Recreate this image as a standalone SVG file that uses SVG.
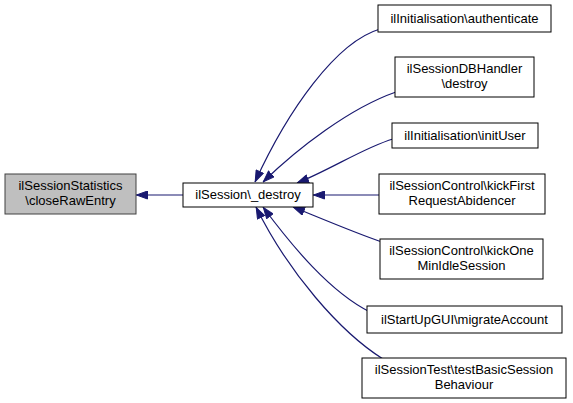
<svg xmlns="http://www.w3.org/2000/svg" width="573" height="403" viewBox="0 0 573 403">
<style>
.n rect{fill:#fff;stroke:#000;stroke-width:1}
.n.g rect{fill:#bfbfbf;stroke:#404040}
text{font-family:"Liberation Sans",Arial,sans-serif;font-size:13px;fill:#000;text-anchor:middle}
.e path{fill:none;stroke:#191970;stroke-width:1.2;marker-end:url(#a)}
</style>
<defs>
<marker id="a" viewBox="0 0 12 9" refX="12" refY="4.5" markerWidth="12" markerHeight="9" markerUnits="userSpaceOnUse" orient="auto">
<path d="M0.5,0.5 L11.5,4.5 L0.5,8.5 Z" fill="#191970" stroke="#191970" stroke-width="1"/>
</marker>
</defs>
<rect width="573" height="403" fill="#fff"/>
<g id="edges" class="e">
<path d="M183,195 L136,195"/>
<path d="M380,29 C336,42 288,110 255,182"/>
<path d="M396,92 C350,108 298,148 263,182"/>
<path d="M393,139 C365,147 330,170 297,183"/>
<path d="M379,195 L313,195"/>
<path d="M382,242 C358,234 325,220 293,207"/>
<path d="M370,312 C330,292 292,246 263,207"/>
<path d="M383,359 C340,332 288,272 256,207"/>
</g>
<g id="n0" class="n g"><rect x="5" y="174" width="131" height="40"/><text x="70.5" y="190">ilSessionStatistics</text><text x="70.5" y="205">\closeRawEntry</text></g>
<g id="n1" class="n"><rect x="183" y="183" width="130" height="24"/><text x="248" y="199">ilSession\_destroy</text></g>
<g id="n2" class="n"><rect x="378" y="5" width="173" height="27"/><text x="464.5" y="23">ilInitialisation\authenticate</text></g>
<g id="n3" class="n"><rect x="395" y="57" width="139" height="40"/><text x="464.5" y="73">ilSessionDBHandler</text><text x="464.5" y="88">\destroy</text></g>
<g id="n4" class="n"><rect x="392" y="123" width="146" height="25"/><text x="465" y="140">ilInitialisation\initUser</text></g>
<g id="n5" class="n"><rect x="379" y="174" width="166" height="40"/><text x="462" y="190">ilSessionControl\kickFirst</text><text x="462" y="205">RequestAbidencer</text></g>
<g id="n6" class="n"><rect x="380" y="239" width="163" height="40"/><text x="461.5" y="255">ilSessionControl\kickOne</text><text x="461.5" y="270">MinIdleSession</text></g>
<g id="n7" class="n"><rect x="367" y="306" width="195" height="27"/><text x="464.5" y="324">ilStartUpGUI\migrateAccount</text></g>
<g id="n8" class="n"><rect x="362" y="358" width="204" height="40"/><text x="464" y="374">ilSessionTest\testBasicSession</text><text x="464" y="389">Behaviour</text></g>
</svg>
